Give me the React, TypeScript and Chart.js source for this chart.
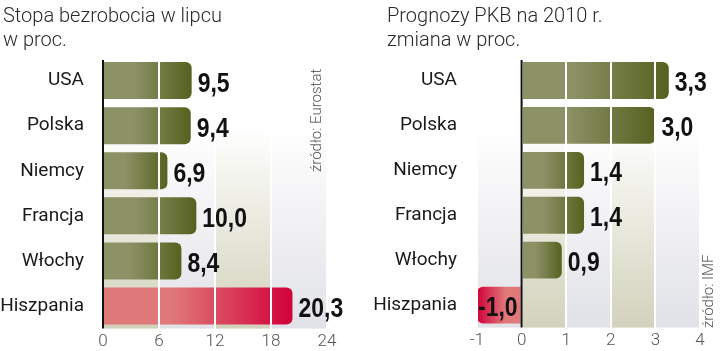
import React, { useEffect, useRef } from "react";
import { Chart, registerables } from "chart.js";

Chart.register(...registerables);

// ---- data ----
const unemploymentTitle = ["Stopa bezrobocia w lipcu", "w proc."];
const unemploymentCountries = ["USA", "Polska", "Niemcy", "Francja", "Włochy", "Hiszpania"];
const unemploymentValues = [9.5, 9.4, 6.9, 10.0, 8.4, 20.3];
const unemploymentTicks = [0, 6, 12, 18, 24];
const unemploymentSource = "źródło: Eurostat";

const gdpTitle = ["Prognozy PKB na 2010 r.", "zmiana w proc."];
const gdpCountries = ["USA", "Polska", "Niemcy", "Francja", "Włochy", "Hiszpania"];
const gdpValues = [3.3, 3.0, 1.4, 1.4, 0.9, -1.0];
const gdpTicks = [-1, 0, 1, 2, 3, 4];
const gdpSource = "źródło: IMF";

const highlightCountry = "Hiszpania";

// ---- styles ----
const OLIVE_LIGHT = "#8c9166";
const OLIVE_DARK = "#56611f";
const RED_LIGHT = "#e07a7a";
const RED_DARK = "#d2003a";
const BAND_BEIGE = "#d2d2bc";
const BAND_GRAY = "#e1e2e7";
const NARROW = 0.82;

function fmt(v: number) {
  return v.toFixed(1).replace(".", ",");
}

const bandPlugin = {
  id: "bands",
  beforeDatasetsDraw(chart: any) {
    const { ctx, chartArea, scales } = chart;
    const xs = scales.x;
    const ticks: number[] = chart.options.plugins.bands.ticks;
    const step = ticks[1] - ticks[0];
    ctx.save();
    for (let i = 0; i < ticks.length - 1; i++) {
      const v = ticks[i];
      const k = Math.round(v / step);
      const col = Math.abs(k) % 2 === 0 ? BAND_BEIGE : BAND_GRAY;
      const x1 = xs.getPixelForValue(v);
      const x2 = xs.getPixelForValue(ticks[i + 1]);
      const g = ctx.createLinearGradient(0, chartArea.top, 0, chartArea.bottom);
      g.addColorStop(0, "#ffffff");
      g.addColorStop(0.25, "#ffffff");
      g.addColorStop(1, col);
      ctx.fillStyle = g;
      ctx.fillRect(x1, chartArea.top, x2 - x1, chartArea.bottom - chartArea.top);
    }
    ctx.restore();
  },
};

const overlayPlugin = {
  id: "overlay",
  afterDraw(chart: any) {
    const { ctx, chartArea, scales } = chart;
    const xs = scales.x;
    const x0 = xs.getPixelForValue(0);
    ctx.save();
    ctx.strokeStyle = "#111111";
    ctx.lineWidth = 2;
    ctx.beginPath();
    ctx.moveTo(x0, chartArea.top + 2);
    ctx.lineTo(x0, chartArea.bottom);
    ctx.stroke();

    const meta = chart.getDatasetMeta(0);
    const values: number[] = chart.data.datasets[0].data;
    ctx.fillStyle = "#111111";
    ctx.font = "bold 28px 'Liberation Sans', Arial, sans-serif";
    ctx.textBaseline = "alphabetic";
    ctx.textAlign = "left";
    meta.data.forEach((bar: any, i: number) => {
      const v = values[i];
      const x = v >= 0 ? bar.x + 6 : bar.x + 1;
      ctx.save();
      ctx.translate(x, bar.y + 11);
      ctx.scale(NARROW, 1);
      ctx.fillText(fmt(v), 0, 0);
      ctx.restore();
    });
    ctx.restore();
  },
};

function makeChart(
  canvas: HTMLCanvasElement,
  labels: string[],
  values: number[],
  ticks: number[],
  yWidth: number,
  labelPad: number,
  padRight: number
) {
  const min = ticks[0];
  const max = ticks[ticks.length - 1];
  return new Chart(canvas, {
    type: "bar",
    data: {
      labels,
      datasets: [
        {
          data: values,
          backgroundColor: (c: any) => {
            const chart = c.chart;
            const hl = labels[c.dataIndex] === highlightCountry;
            const light = hl ? RED_LIGHT : OLIVE_LIGHT;
            const dark = hl ? RED_DARK : OLIVE_DARK;
            if (c.type !== "data" || !chart.chartArea || !chart.scales.x) return dark;
            const xs = chart.scales.x;
            const a = xs.getPixelForValue(0);
            const b = xs.getPixelForValue(c.raw);
            if (!isFinite(a) || !isFinite(b) || a === b) return dark;
            const g = chart.ctx.createLinearGradient(a, 0, b, 0);
            g.addColorStop(0, light);
            g.addColorStop(0.35, light);
            g.addColorStop(1, dark);
            return g;
          },
          borderRadius: 6,
          borderSkipped: "start",
          barPercentage: 0.82,
          categoryPercentage: 1,
        },
      ],
    },
    options: {
      indexAxis: "y",
      responsive: false,
      animation: false,
      devicePixelRatio: 1,
      layout: { padding: { top: 58, right: padRight, bottom: 0, left: 0 } },
      plugins: {
        legend: { display: false },
        tooltip: { enabled: false },
        bands: { ticks },
      } as any,
      scales: {
        x: {
          type: "linear",
          min,
          max,
          afterBuildTicks: (s: any) => {
            s.ticks = ticks.map((v) => ({ value: v }));
          },
          grid: { color: "#ffffff", lineWidth: 2, drawTicks: false, z: 1 },
          border: { display: false },
          ticks: {
            padding: 3,
            color: "#555555",
            font: { family: "Roboto", size: 17, weight: "300" },
            callback: (v: any) => String(v),
          },
          afterFit: (s: any) => {
            s.height = 20;
          },
        },
        y: {
          grid: { display: false },
          border: { display: false },
          ticks: {
            padding: labelPad,
            color: "#1a1a1a",
            font: { family: "Roboto", size: 19 },
          },
          afterFit: (s: any) => {
            s.width = yWidth;
          },
        },
      },
    } as any,
    plugins: [bandPlugin, overlayPlugin],
  });
}

function Panel(props: {
  left: number;
  title: string[];
  labels: string[];
  values: number[];
  ticks: number[];
  yWidth: number;
  labelPad: number;
  padRight: number;
  source: string;
  sourceX: number;
  sourceBottom: number;
}) {
  const ref = useRef<HTMLCanvasElement>(null);
  useEffect(() => {
    if (!ref.current) return;
    const ch = makeChart(
      ref.current,
      props.labels,
      props.values,
      props.ticks,
      props.yWidth,
      props.labelPad,
      props.padRight
    );
    return () => ch.destroy();
  }, []);
  return (
    <div style={{ position: "absolute", left: props.left, top: 0, width: 360, height: 351 }}>
      <canvas ref={ref} width={360} height={351} style={{ position: "absolute", left: 0, top: 0, width: 360, height: 351 }} />
      <div
        style={{
          position: "absolute",
          left: props.left === 0 ? 3 : 27,
          top: 3,
          fontFamily: "Roboto, sans-serif",
          fontWeight: 300,
          fontSize: 20,
          lineHeight: "24px",
          color: "#2a2a2a",
          whiteSpace: "nowrap",
        }}
      >
        {props.title.map((t, i) => (
          <div key={i}>{t}</div>
        ))}
      </div>
      <div
        style={{
          position: "absolute",
          left: props.sourceX - 8,
          top: props.sourceBottom,
          transform: "rotate(-90deg)",
          transformOrigin: "left top",
          fontFamily: "Roboto, sans-serif",
          fontWeight: 300,
          fontSize: 15,
          lineHeight: "16px",
          color: "#555555",
          whiteSpace: "nowrap",
        }}
      >
        {props.source}
      </div>
    </div>
  );
}

export default function App() {
  return (
    <div style={{ position: "absolute", left: 0, top: 0, width: 720, height: 351, background: "#ffffff", overflow: "hidden" }}>
      <Panel
        left={0}
        title={unemploymentTitle}
        labels={unemploymentCountries}
        values={unemploymentValues}
        ticks={unemploymentTicks}
        yWidth={103}
        labelPad={11}
        padRight={33}
        source={unemploymentSource}
        sourceX={316}
        sourceBottom={172}
      />
      <Panel
        left={360}
        title={gdpTitle}
        labels={gdpCountries}
        values={gdpValues}
        ticks={gdpTicks}
        yWidth={117}
        labelPad={12}
        padRight={20}
        source={gdpSource}
        sourceX={348}
        sourceBottom={328}
      />
    </div>
  );
}
